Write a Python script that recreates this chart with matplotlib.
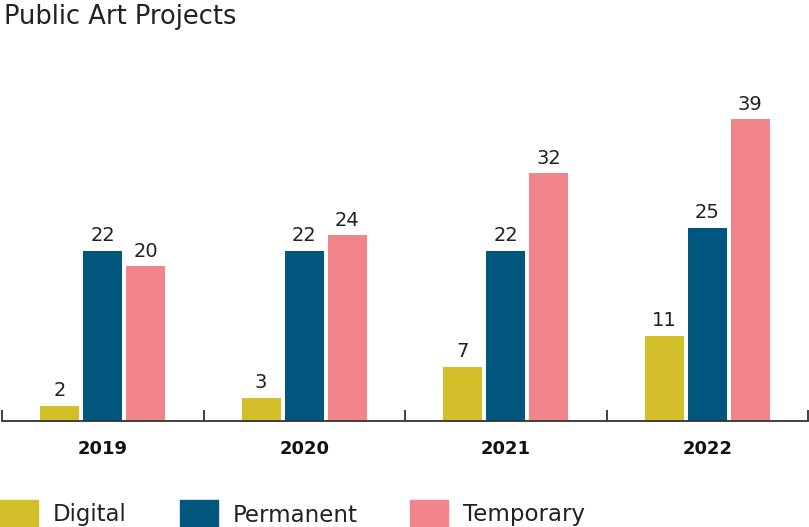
import matplotlib.pyplot as plt
import numpy as np
from matplotlib.patches import Rectangle

years = ['2019', '2020', '2021', '2022']
series = ['Digital', 'Permanent', 'Temporary']
digital = [2, 3, 7, 11]
permanent = [22, 22, 22, 25]
temporary = [20, 24, 32, 39]
colors = ['#D3BF29', '#02577E', '#F2858B']

plt.rcParams['font.family'] = ['DejaVu Sans']

fig = plt.figure(figsize=(8.09, 5.27), dpi=100)
ax = fig.add_axes([2 / 809, 1 - 421 / 527, 806 / 809, 381 / 527])

x = np.arange(len(years))
width = 0.194
step = 0.214
for i, (vals, col) in enumerate(zip([digital, permanent, temporary], colors)):
    bars = ax.bar(x + (i - 1) * step, vals, width, color=col)
    ax.bar_label(bars, padding=4, fontsize=14, color='#222222')

ax.set_xlim(-0.5, len(years) - 0.5)
ax.set_ylim(0, 381 / 7.74)
for s in ['top', 'right', 'left']:
    ax.spines[s].set_visible(False)
ax.spines['bottom'].set_linewidth(1.3)
ax.spines['bottom'].set_color('#333333')
ax.set_yticks([])

ax.set_xticks(np.arange(len(years) + 1) - 0.5)
ax.set_xticklabels([])
ax.tick_params(axis='x', which='major', direction='in', length=8, width=1.3, color='#333333')
ax.set_xticks(x, minor=True)
ax.set_xticklabels(years, minor=True, fontsize=13, fontweight='bold', color='#111111')
ax.tick_params(axis='x', which='minor', length=0, pad=14)

fig.text(4 / 809, 1 - 17 / 527, 'Public Art Projects', fontsize=18.5, va='center', ha='left', color='#222222')

# legend
leg_x = [0, 180, 410]
for lx, name, col in zip(leg_x, series, colors):
    fig.add_artist(Rectangle((lx / 809, -0.02), 38 / 809, 0.02 + 27 / 527,
                             transform=fig.transFigure, color=col))
    fig.text((lx + 53) / 809, 1 - 515 / 527, name, fontsize=16.5, va='center', ha='left', color='#222222')

fig.savefig('out.png', dpi=100)
